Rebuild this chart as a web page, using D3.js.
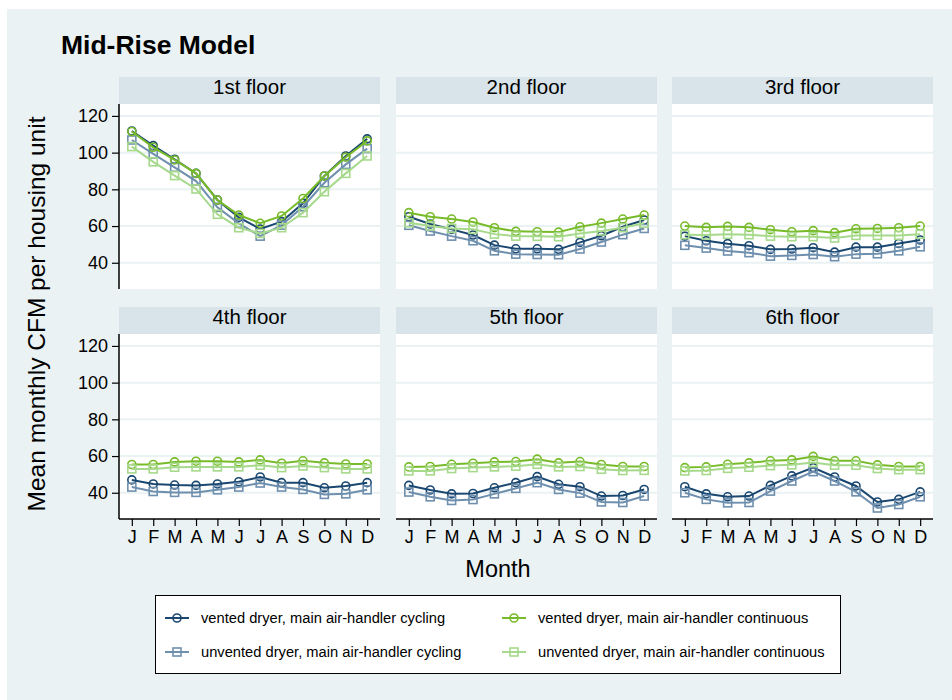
<!DOCTYPE html>
<html>
<head>
<meta charset="utf-8">
<script src="https://cdn.jsdelivr.net/npm/d3@7"></script>
<style>
  body { margin: 0; background: #fff; }
  text { font-family: "Liberation Sans", Arial, sans-serif; }
</style>
</head>
<body>
<svg id="chart" width="952" height="700"></svg>
<script>
// months & panels
var months = ["J", "F", "M", "A", "M", "J", "J", "A", "S", "O", "N", "D"];
var floors = ["1st floor", "2nd floor", "3rd floor", "4th floor", "5th floor", "6th floor"];
var yTicks = [40, 60, 80, 100, 120];

var seriesNames = [
  "vented dryer, main air-handler cycling",
  "unvented dryer, main air-handler cycling",
  "vented dryer, main air-handler continuous",
  "unvented dryer, main air-handler continuous"
];

// one row per floor, Jan..Dec
var ventedCycling = [
  [111.8, 103.8, 96.4, 88.7, 74.2, 64.7, 58.4, 62.4, 72.4, 87.3, 98.2, 107.5],
  [65.1, 61.1, 58.2, 55.1, 49.6, 47.6, 47.6, 47.3, 51.1, 54.7, 59.6, 63.3],
  [54.5, 52.0, 50.4, 49.3, 47.3, 47.5, 48.2, 45.8, 48.5, 48.5, 50.5, 52.4],
  [47.0, 44.8, 44.2, 44.0, 44.8, 46.0, 48.6, 45.5, 45.5, 42.7, 43.7, 45.5],
  [44.0, 41.5, 39.4, 39.6, 42.7, 45.5, 48.8, 44.6, 43.3, 38.2, 38.5, 41.8],
  [43.3, 39.4, 37.8, 38.2, 44.0, 49.2, 53.7, 48.6, 43.7, 35.0, 36.4, 40.5]
];
var unventedCycling = [
  [106.9, 99.3, 92.0, 84.5, 70.2, 61.5, 54.5, 60.5, 70.5, 83.6, 93.6, 102.2],
  [60.4, 57.3, 54.5, 52.0, 46.5, 44.7, 44.5, 44.4, 47.5, 51.3, 55.3, 58.7],
  [49.5, 48.0, 46.4, 45.5, 43.6, 44.0, 44.5, 43.3, 44.7, 44.9, 46.5, 48.7],
  [43.1, 40.7, 40.2, 40.2, 41.6, 43.1, 45.3, 43.1, 41.8, 39.1, 39.4, 41.6],
  [40.4, 37.8, 35.8, 36.3, 39.4, 42.4, 45.5, 41.8, 39.8, 35.0, 34.7, 38.2],
  [40.0, 36.4, 34.5, 34.7, 40.9, 46.4, 51.5, 46.4, 40.5, 31.7, 33.6, 37.8]
];
var ventedContinuous = [
  [111.5, 102.9, 96.0, 88.7, 74.2, 66.0, 61.5, 65.5, 75.0, 87.3, 97.5, 106.4],
  [67.3, 65.1, 63.8, 62.2, 59.1, 57.1, 56.9, 56.7, 59.6, 61.6, 63.8, 66.0],
  [60.0, 59.3, 59.8, 59.3, 58.0, 56.9, 57.5, 56.4, 58.5, 58.7, 59.1, 60.0],
  [55.4, 55.4, 56.8, 57.2, 57.2, 56.8, 57.9, 56.1, 57.4, 56.3, 55.7, 55.7],
  [54.1, 54.3, 55.5, 56.1, 56.8, 57.0, 58.3, 56.3, 57.0, 55.4, 54.3, 54.3],
  [53.7, 54.1, 55.5, 56.3, 57.4, 57.9, 59.8, 57.4, 57.4, 55.2, 54.3, 54.3]
];
var unventedContinuous = [
  [103.3, 95.0, 87.5, 80.2, 66.4, 59.1, 56.0, 59.1, 67.3, 78.7, 88.7, 98.2],
  [61.8, 60.0, 58.7, 58.2, 55.6, 54.5, 54.4, 54.2, 56.0, 57.3, 59.1, 61.5],
  [55.3, 55.1, 55.5, 55.3, 54.5, 54.2, 54.2, 53.5, 54.9, 54.9, 54.9, 55.5],
  [53.0, 53.0, 53.9, 54.1, 54.1, 54.1, 55.0, 53.7, 54.6, 53.7, 53.0, 53.0],
  [51.9, 51.9, 53.2, 53.7, 54.1, 54.5, 55.5, 54.1, 54.3, 52.8, 52.1, 52.2],
  [51.9, 52.1, 53.3, 53.9, 54.8, 55.2, 56.5, 55.0, 55.0, 53.2, 52.6, 52.6]
];

var seriesData = [ventedCycling, unventedCycling, ventedContinuous, unventedContinuous];
var seriesColor = ["#1a476f", "#6f8fae", "#78bb2a", "#a6d98b"];
var seriesShape = ["circle", "square", "circle", "square"];

var svg = d3.select("#chart");

// background
svg.append("rect").attr("x", 7).attr("y", 9).attr("width", 945).attr("height", 691)
  .attr("fill", "#eaf2f3");

svg.append("text").attr("x", 61).attr("y", 54)
  .attr("font-size", 26.5).attr("font-weight", "bold").attr("fill", "#000")
  .text("Mid-Rise Model");

var colX = [119, 396, 672];
var rowY = [77, 307];
var stripH = 27, pw = 261, ph = 185;

var x = d3.scaleLinear().domain([0.4, 12.6]).range([0, pw]);
var y = d3.scaleLinear().domain([25.7, 126.5]).range([ph, 0]);

var line = d3.line()
  .x(function (d, i) { return x(i + 1); })
  .y(function (d) { return y(d); });

function drawMarker(g, shape, color, cx, cy) {
  if (shape == "circle") {
    g.append("circle").attr("cx", cx).attr("cy", cy).attr("r", 4)
      .attr("fill", "none").attr("stroke", color).attr("stroke-width", 1.6);
  } else {
    g.append("rect").attr("x", cx - 4).attr("y", cy - 4).attr("width", 8).attr("height", 8)
      .attr("fill", "none").attr("stroke", color).attr("stroke-width", 1.6);
  }
}

floors.forEach(function (name, f) {
  var col = f % 3, row = Math.floor(f / 3);
  var g = svg.append("g")
    .attr("transform", "translate(" + colX[col] + "," + rowY[row] + ")");

  // strip
  g.append("rect").attr("width", pw).attr("height", stripH).attr("fill", "#d8e4e9");
  g.append("text").attr("x", pw / 2).attr("y", 16.5).attr("text-anchor", "middle")
    .attr("font-size", 20.5).attr("fill", "#000").text(name);

  var p = g.append("g").attr("transform", "translate(0," + stripH + ")");
  p.append("rect").attr("width", pw).attr("height", ph).attr("fill", "#fff");

  // gridlines
  p.selectAll(".grid").data(yTicks).enter().append("line")
    .attr("x1", 0).attr("x2", pw)
    .attr("y1", function (d) { return y(d); }).attr("y2", function (d) { return y(d); })
    .attr("stroke", "#eaf2f3").attr("stroke-width", 2);

  // series
  seriesData.forEach(function (s, k) {
    var vals = s[f];
    p.append("path").datum(vals).attr("d", line)
      .attr("fill", "none").attr("stroke", seriesColor[k]).attr("stroke-width", 2);
    vals.forEach(function (v, i) {
      drawMarker(p, seriesShape[k], seriesColor[k], x(i + 1), y(v));
    });
  });

  if (col == 0) {
    var ya = p.append("g").call(d3.axisLeft(y).tickValues(yTicks).tickSize(7).tickPadding(4));
    ya.select(".domain").attr("d", "M0,0V" + ph).attr("stroke", "#000").attr("stroke-width", 1.5);
    ya.selectAll(".tick line").attr("stroke", "#000").attr("stroke-width", 1.2);
    ya.selectAll(".tick text").attr("font-size", 18).attr("font-family", "Liberation Sans, Arial, sans-serif")
      .attr("fill", "#000");
  }
  if (row == 1) {
    var xa = p.append("g").attr("transform", "translate(0," + ph + ")")
      .call(d3.axisBottom(x).tickValues(d3.range(1, 13)).tickSize(7).tickPadding(4)
        .tickFormat(function (d) { return months[d - 1]; }));
    xa.select(".domain").attr("d", "M0,0H" + pw).attr("stroke", "#000").attr("stroke-width", 1.5);
    xa.selectAll(".tick line").attr("stroke", "#000").attr("stroke-width", 1.2);
    xa.selectAll(".tick text").attr("font-size", 18).attr("font-family", "Liberation Sans, Arial, sans-serif")
      .attr("fill", "#000");
  }
});

// axis titles
svg.append("text").attr("transform", "translate(45,314) rotate(-90)")
  .attr("text-anchor", "middle").attr("font-size", 24.5).attr("fill", "#000")
  .text("Mean monthly CFM per housing unit");
svg.append("text").attr("x", 498).attr("y", 577).attr("text-anchor", "middle")
  .attr("font-size", 23.5).attr("fill", "#000").text("Month");

// legend
var lg = svg.append("g");
lg.append("rect").attr("x", 155.5).attr("y", 595.5).attr("width", 685).attr("height", 78)
  .attr("fill", "#fff").attr("stroke", "#000").attr("stroke-width", 1);

var legX = [165, 502], legY = [618, 652];
seriesNames.forEach(function (n, k) {
  var lx = legX[Math.floor(k / 2)], ly = legY[k % 2];
  lg.append("line").attr("x1", lx).attr("x2", lx + 24).attr("y1", ly).attr("y2", ly)
    .attr("stroke", seriesColor[k]).attr("stroke-width", 2);
  drawMarker(lg, seriesShape[k], seriesColor[k], lx + 12, ly);
  lg.append("text").attr("x", lx + 36).attr("y", ly + 5).attr("font-size", 14.7)
    .attr("fill", "#000").text(n);
});
</script>
</body>
</html>
